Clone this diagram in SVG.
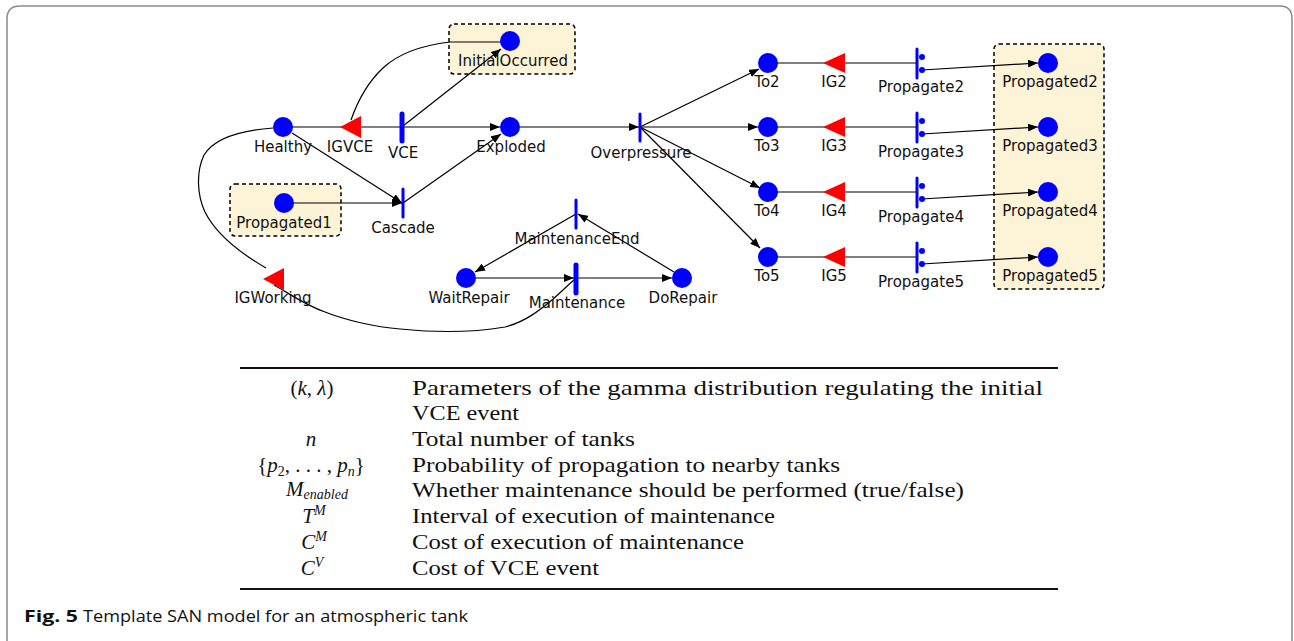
<svg xmlns="http://www.w3.org/2000/svg" width="1294" height="641" viewBox="0 0 1294 641">
<defs>
<style>
.place{fill:#0000ff}
.tr{stroke:#0000ff;stroke-linecap:round}
.gate{fill:#ff0000}
.lbl{font-family:"DejaVu Sans",sans-serif;font-size:15px;fill:#111;text-anchor:middle}
.arc{fill:none;stroke:#000;stroke-width:1.2}
.arr{fill:none;stroke:#000;stroke-width:1.2;marker-end:url(#ah)}
.box{fill:#fdf3d7;stroke:#000;stroke-width:1.5;stroke-dasharray:4,3}
.tt{font-family:"Liberation Serif",serif;font-size:21px;fill:#111}
.mt{font-family:"Liberation Serif",serif;font-size:21px;fill:#111;text-anchor:middle}
.it{font-style:italic}
.cap{font-family:"Open Sans","Liberation Sans",sans-serif;font-size:16.5px;fill:#111}
</style>
<marker id="ah" viewBox="0 0 10 8" refX="10" refY="4" markerWidth="10" markerHeight="8" markerUnits="userSpaceOnUse" orient="auto">
<path d="M0,0 L10,4 L0,8 Z" fill="#000"/>
</marker>
</defs>
<rect width="1294" height="641" fill="#fff"/>
<path d="M7,641 L7,19 Q7,6 20,6 L1280,6 Q1292,6 1292,19 L1292,641" fill="none" stroke="#8a8a8a" stroke-width="1.5"/>

<g id="boxes">
<rect class="box" x="449" y="24" width="126" height="50" rx="5"/>
<rect class="box" x="230" y="184" width="111" height="52" rx="5"/>
<rect class="box" x="994" y="44" width="110" height="245" rx="5"/>
</g>

<g id="connectors">
<line class="arc" x1="283" y1="127" x2="345" y2="127"/>
<line class="arc" x1="360" y1="127" x2="402" y2="127"/>
<line class="arr" x1="402" y1="127" x2="500" y2="127"/>
<line class="arr" x1="403" y1="126" x2="501" y2="49"/>
<path class="arc" d="M351,120 C358,100 368,82 383,68 C400,52 425,45 450,42 L510,42"/>
<line class="arr" x1="292" y1="133" x2="402" y2="203"/>
<line class="arr" x1="294" y1="203" x2="402" y2="203"/>
<line class="arr" x1="403" y1="203" x2="501" y2="134"/>
<line class="arr" x1="520" y1="127" x2="639" y2="127"/>
<line class="arr" x1="640" y1="127" x2="759" y2="69"/>
<line class="arr" x1="640" y1="127" x2="758" y2="127"/>
<line class="arr" x1="640" y1="127" x2="760" y2="188"/>
<line class="arr" x1="640" y1="127" x2="760" y2="248"/>
<line class="arc" x1="768" y1="63" x2="917" y2="63"/>
<line class="arc" x1="768" y1="127" x2="917" y2="127"/>
<line class="arc" x1="768" y1="192" x2="917" y2="192"/>
<line class="arc" x1="768" y1="257" x2="917" y2="257"/>
<line class="arr" x1="922" y1="70" x2="1038" y2="63"/>
<line class="arr" x1="922" y1="134" x2="1038" y2="127"/>
<line class="arr" x1="922" y1="199" x2="1038" y2="192"/>
<line class="arr" x1="922" y1="264" x2="1038" y2="257"/>
<line class="arr" x1="476" y1="278" x2="574" y2="278"/>
<line class="arr" x1="578" y1="278" x2="672" y2="278"/>
<line class="arr" x1="674" y1="272" x2="578" y2="214"/>
<line class="arr" x1="576" y1="214" x2="475" y2="272"/>
<path class="arc" d="M273,128 C245,130 215,137 204,155 C196,172 197,195 205,212 C215,232 235,250 266,268"/>
<path class="arc" d="M274,285 C290,294 305,305 325,312 C345,320 375,327 400,329 C430,332 470,333 505,327 C525,322 540,310 552,300 C560,293 567,286 575,279"/>
</g>

<g id="Healthy"><circle class="place" cx="283" cy="127" r="10"/><text class="lbl" x="283" y="152">Healthy</text></g>
<g id="IGVCE"><polygon class="gate" points="340,127 361,116 361,138"/><text class="lbl" x="350" y="152">IGVCE</text></g>
<g id="VCE"><line class="tr" x1="402" y1="114" x2="402" y2="141" stroke-width="5"/><text class="lbl" x="403" y="158">VCE</text></g>
<g id="InitialOccurred"><circle class="place" cx="510" cy="41" r="10"/><text class="lbl" x="513" y="66">InitialOccurred</text></g>
<g id="Exploded"><circle class="place" cx="510" cy="127" r="10"/><text class="lbl" x="511" y="152">Exploded</text></g>
<g id="Propagated1"><circle class="place" cx="284" cy="203" r="10"/><text class="lbl" x="284" y="228">Propagated1</text></g>
<g id="Cascade"><line class="tr" x1="403" y1="189" x2="403" y2="217" stroke-width="3"/><text class="lbl" x="403" y="233">Cascade</text></g>
<g id="Overpressure"><line class="tr" x1="640" y1="114" x2="640" y2="141" stroke-width="3"/><text class="lbl" x="641" y="158">Overpressure</text></g>
<g id="MaintenanceEnd"><line class="tr" x1="576" y1="200" x2="576" y2="228" stroke-width="3"/><text class="lbl" x="577" y="244">MaintenanceEnd</text></g>
<g id="Maintenance"><line class="tr" x1="576" y1="265" x2="576" y2="293" stroke-width="5"/><text class="lbl" x="577" y="308">Maintenance</text></g>
<g id="WaitRepair"><circle class="place" cx="466" cy="278" r="10"/><text class="lbl" x="469" y="303">WaitRepair</text></g>
<g id="DoRepair"><circle class="place" cx="682" cy="278" r="10"/><text class="lbl" x="683" y="303">DoRepair</text></g>
<g id="IGWorking"><polygon class="gate" points="263,279 284,268 284,290"/><text class="lbl" x="273" y="303">IGWorking</text></g>

<g id="To2"><circle class="place" cx="768" cy="63" r="10"/><text class="lbl" x="767" y="87">To2</text></g>
<g id="IG2"><polygon class="gate" points="823,63 845,53 845,73"/><text class="lbl" x="834" y="87">IG2</text></g>
<g id="Propagate2"><line class="tr" x1="917" y1="49" x2="917" y2="78" stroke-width="3"/><circle class="place" cx="922" cy="57" r="3"/><circle class="place" cx="922" cy="70" r="3"/><text class="lbl" x="921" y="92">Propagate2</text></g>
<g id="Propagated2"><circle class="place" cx="1048" cy="63" r="10"/><text class="lbl" x="1050" y="87">Propagated2</text></g>

<g id="To3"><circle class="place" cx="768" cy="127" r="10"/><text class="lbl" x="767" y="151">To3</text></g>
<g id="IG3"><polygon class="gate" points="823,127 845,117 845,137"/><text class="lbl" x="834" y="151">IG3</text></g>
<g id="Propagate3"><line class="tr" x1="917" y1="113" x2="917" y2="142" stroke-width="3"/><circle class="place" cx="922" cy="121" r="3"/><circle class="place" cx="922" cy="134" r="3"/><text class="lbl" x="921" y="157">Propagate3</text></g>
<g id="Propagated3"><circle class="place" cx="1048" cy="127" r="10"/><text class="lbl" x="1050" y="151">Propagated3</text></g>

<g id="To4"><circle class="place" cx="768" cy="192" r="10"/><text class="lbl" x="767" y="216">To4</text></g>
<g id="IG4"><polygon class="gate" points="823,192 845,182 845,202"/><text class="lbl" x="834" y="216">IG4</text></g>
<g id="Propagate4"><line class="tr" x1="917" y1="178" x2="917" y2="207" stroke-width="3"/><circle class="place" cx="922" cy="186" r="3"/><circle class="place" cx="922" cy="199" r="3"/><text class="lbl" x="921" y="222">Propagate4</text></g>
<g id="Propagated4"><circle class="place" cx="1048" cy="192" r="10"/><text class="lbl" x="1050" y="216">Propagated4</text></g>

<g id="To5"><circle class="place" cx="768" cy="257" r="10"/><text class="lbl" x="767" y="281">To5</text></g>
<g id="IG5"><polygon class="gate" points="823,257 845,247 845,267"/><text class="lbl" x="834" y="281">IG5</text></g>
<g id="Propagate5"><line class="tr" x1="917" y1="243" x2="917" y2="272" stroke-width="3"/><circle class="place" cx="922" cy="251" r="3"/><circle class="place" cx="922" cy="264" r="3"/><text class="lbl" x="921" y="287">Propagate5</text></g>
<g id="Propagated5"><circle class="place" cx="1048" cy="257" r="10"/><text class="lbl" x="1050" y="281">Propagated5</text></g>

<g id="table">
<line x1="240" y1="368" x2="1058" y2="368" stroke="#111" stroke-width="2"/>
<line x1="240" y1="589" x2="1058" y2="589" stroke="#111" stroke-width="2"/>
<text class="mt" x="312" y="395">(<tspan class="it">k</tspan>, <tspan class="it">λ</tspan>)</text>
<text class="mt it" x="311" y="446">n</text>
<text class="mt" x="311" y="472">{<tspan class="it">p</tspan><tspan font-size="14" dy="4">2</tspan><tspan dy="-4">, . . . , </tspan><tspan class="it">p</tspan><tspan class="it" font-size="14" dy="4">n</tspan><tspan dy="-4">}</tspan></text>
<text class="mt" x="317" y="496"><tspan class="it">M</tspan><tspan class="it" font-size="14" dy="3">enabled</tspan></text>
<text class="mt" x="314" y="523"><tspan class="it">T</tspan><tspan class="it" font-size="14" dy="-8">M</tspan></text>
<text class="mt" x="314" y="549"><tspan class="it">C</tspan><tspan class="it" font-size="14" dy="-8">M</tspan></text>
<text class="mt" x="312" y="575"><tspan class="it">C</tspan><tspan class="it" font-size="14" dy="-8">V</tspan></text>
<text class="tt" x="412" y="395" textLength="631" lengthAdjust="spacingAndGlyphs">Parameters of the gamma distribution regulating the initial</text>
<text class="tt" x="412" y="420" textLength="107" lengthAdjust="spacingAndGlyphs">VCE event</text>
<text class="tt" x="412" y="446" textLength="223" lengthAdjust="spacingAndGlyphs">Total number of tanks</text>
<text class="tt" x="412" y="472" textLength="428" lengthAdjust="spacingAndGlyphs">Probability of propagation to nearby tanks</text>
<text class="tt" x="412" y="497" textLength="552" lengthAdjust="spacingAndGlyphs">Whether maintenance should be performed (true/false)</text>
<text class="tt" x="412" y="523" textLength="363" lengthAdjust="spacingAndGlyphs">Interval of execution of maintenance</text>
<text class="tt" x="412" y="549" textLength="332" lengthAdjust="spacingAndGlyphs">Cost of execution of maintenance</text>
<text class="tt" x="412" y="575" textLength="187" lengthAdjust="spacingAndGlyphs">Cost of VCE event</text>
</g>

<g id="caption">
<text class="cap" x="24" y="622" font-weight="bold" textLength="54" lengthAdjust="spacingAndGlyphs">Fig. 5</text>
<text class="cap" x="83" y="622" textLength="385" lengthAdjust="spacingAndGlyphs">Template SAN model for an atmospheric tank</text>
</g>
</svg>
